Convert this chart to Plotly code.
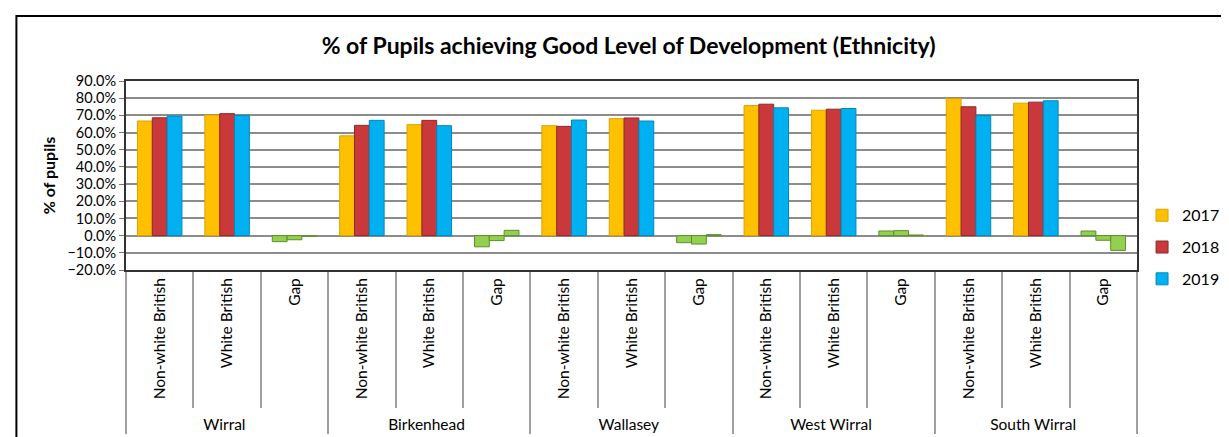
import plotly.graph_objects as go

areas = ["Wirral", "Birkenhead", "Wallasey", "West Wirral", "South Wirral"]
groups = ["Non-white British", "White British", "Gap"]
years = ["2017", "2018", "2019"]

# % of pupils achieving GLD, per area: [Non-white British, White British, Gap]
y2017 = [66.7, 70.2, -3.5, 58.1, 64.6, -6.5, 64.0, 68.1, -4.1, 75.7, 73.0, 2.7, 79.8, 77.1, 2.7]
y2018 = [68.6, 71.0, -2.4, 64.2, 67.1, -2.9, 63.6, 68.5, -4.9, 76.5, 73.6, 2.9, 75.0, 77.7, -2.7]
y2019 = [69.6, 70.0, -0.4, 67.1, 64.0, 3.1, 67.3, 66.7, 0.6, 74.4, 74.0, 0.4, 69.9, 78.5, -8.6]

year_colors = {"2017": "#FFC000", "2018": "#C9383A", "2019": "#00B0F0"}
year_lines = {"2017": "#D9A300", "2018": "#8E2A2B", "2019": "#0089BE"}
gap_color = "#92D050"
gap_line = "#5E8F2A"

outer = [a for a in areas for g in groups]
inner = [g for a in areas for g in groups]

fig = go.Figure()
for yr, vals in zip(years, [y2017, y2018, y2019]):
    fig.add_trace(go.Bar(
        x=[outer, inner],
        y=[v / 100 for v in vals],
        name=yr,
        legendgroup=yr,
        marker=dict(
            color=[gap_color if g == "Gap" else year_colors[yr] for g in inner],
            line=dict(color=[gap_line if g == "Gap" else year_lines[yr] for g in inner], width=1),
        ),
    ))

fig.update_layout(
    width=1229, height=437,
    paper_bgcolor="white", plot_bgcolor="white",
    font=dict(family="Lato, Calibri, sans-serif", color="black", size=14),
    title=dict(text="<b>% of Pupils achieving Good Level of Development (Ethnicity)</b>",
               x=0.505, xanchor="center", y=0.913, yanchor="middle", font=dict(size=23)),
    margin=dict(l=118, r=87, t=73, b=175),
    barmode="group", bargap=0.34, bargroupgap=0.0,
    showlegend=True,
    legend=dict(x=1.005, y=0.12, xanchor="left", yanchor="middle",
                font=dict(size=16), tracegroupgap=8, itemwidth=30),
)

fig.update_yaxes(
    range=[-0.2, 0.9], dtick=0.1, tickformat=".1%", automargin=False,
    showgrid=True, gridcolor="#8C8C8C", gridwidth=1.5,
    zeroline=True, zerolinecolor="#8C8C8C", zerolinewidth=1.5,
    showline=True, linecolor="#333333", linewidth=2, mirror=True,
    ticks="outside", ticklen=5, tickcolor="#777777",
    title=dict(text="<b>% of pupils</b>", font=dict(size=16), standoff=8),
    tickfont=dict(size=14.5),
)
fig.update_xaxes(
    type="multicategory", tickangle=-90, automargin=False,
    showline=True, linecolor="#333333", linewidth=2, mirror=True,
    ticks="outside", tickson="boundaries", ticklen=136, tickcolor="#A0A0A0", tickwidth=2,
    showdividers=True, dividercolor="#A0A0A0", dividerwidth=2,
    tickfont=dict(size=15.5),
)

# outer chart frame
fig.add_shape(type="rect", xref="paper", yref="paper",
              x0=-0.1084, x1=1.1, y0=-1.0, y1=1.344,
              line=dict(color="black", width=2), fillcolor="rgba(0,0,0,0)", layer="below")

fig.write_html("out.html")
